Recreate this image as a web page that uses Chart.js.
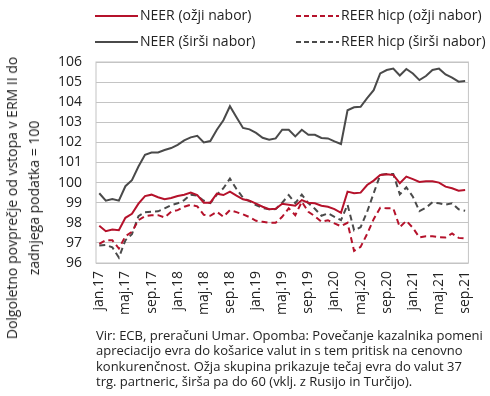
<!DOCTYPE html>
<html>
<head>
<meta charset="utf-8">
<script src="https://cdn.jsdelivr.net/npm/chart.js@4"></script>
<style>
  body { margin: 0; background: #fff; font-family: "Open Sans", sans-serif; color: #222; }
  #wrap { position: relative; width: 490px; height: 396px; overflow: hidden; }
  #chart { position: absolute; left: 0; top: 0; }
  .leg { position: absolute; font-size: 14px; line-height: 18px; white-space: nowrap; }
  .leg svg { position: absolute; left: 0; top: 8px; }
  .leg span { position: absolute; left: 45px; top: 0; }
  #ytitle { position: absolute; left: 23px; top: 198px; font-size: 14px; line-height: 22px;
    white-space: nowrap; text-align: center; transform: translate(-50%, -50%) rotate(-90deg); }
  #note { position: absolute; left: 96px; top: 328px; font-size: 13px; line-height: 15.3px; white-space: nowrap; }
</style>
</head>
<body>
<div id="wrap">
  <canvas id="chart" width="490" height="396"></canvas>
  <div id="legend"></div>
  <div id="ytitle">Dolgoletno povprečje od vstopa v ERM II do<br>zadnjega podatka = 100</div>
  <div id="note">Vir: ECB, preračuni Umar. Opomba: Povečanje kazalnika pomeni<br>apreciacijo evra do košarice valut in s tem pritisk na cenovno<br>konkurenčnost. Ožja skupina prikazuje tečaj evra do valut 37<br>trg. partneric, širša pa do 60 (vklj. z Rusijo in Turčijo).</div>
</div>
<script>
  // months jan.17 .. sep.21
  const monthNames = ['jan', 'feb', 'mar', 'apr', 'maj', 'jun', 'jul', 'avg', 'sep', 'okt', 'nov', 'dec'];
  const labels = [];
  for (let y = 17; y <= 21; y++) {
    for (let m = 0; m < 12; m++) {
      if (y === 21 && m > 8) break;
      labels.push(monthNames[m] + '.' + y);
    }
  }

  const neerNarrow = [97.85, 97.58, 97.67, 97.63, 98.25, 98.45, 98.95, 99.33, 99.4, 99.27,
    99.17, 99.23, 99.33, 99.4, 99.5, 99.38, 99.0, 99.0, 99.45, 99.38,
    99.55, 99.35, 99.17, 99.1, 98.95, 98.8, 98.68, 98.7, 98.95, 98.9,
    98.85, 99.13, 99.0, 98.97, 98.85, 98.8, 98.68, 98.5, 99.55, 99.47,
    99.5, 99.88, 100.1, 100.38, 100.42, 100.38, 99.97, 100.3, 100.17, 100.03,
    100.07, 100.07, 100.0, 99.8, 99.72, 99.6, 99.63];

  const reerNarrow = [96.95, 97.13, 97.13, 96.72, 97.33, 97.55, 98.13, 98.33, 98.38, 98.38,
    98.27, 98.55, 98.63, 98.8, 98.9, 98.82, 98.4, 98.35, 98.55, 98.3,
    98.63, 98.53, 98.42, 98.28, 98.1, 98.05, 98.0, 98.0, 98.3, 98.72,
    98.38, 99.05, 98.55, 98.33, 98.05, 98.13, 97.97, 97.83, 98.0, 96.6,
    96.8, 97.45, 98.18, 98.75, 98.72, 98.72, 97.78, 98.1, 97.75, 97.27,
    97.33, 97.33, 97.28, 97.27, 97.47, 97.25, 97.22];

  const neerBroad = [99.47, 99.1, 99.18, 99.1, 99.82, 100.12, 100.8, 101.38, 101.5, 101.5,
    101.62, 101.72, 101.88, 102.1, 102.25, 102.33, 102.0, 102.07, 102.63, 103.1,
    103.8, 103.25, 102.72, 102.65, 102.47, 102.23, 102.13, 102.2, 102.63, 102.63,
    102.3, 102.63, 102.38, 102.38, 102.22, 102.2, 102.05, 101.92, 103.6, 103.75,
    103.77, 104.2, 104.6, 105.43, 105.6, 105.67, 105.33, 105.65, 105.43, 105.1,
    105.3, 105.6, 105.67, 105.38, 105.22, 105.02, 105.05];

  const reerBroad = [96.87, 96.9, 96.78, 96.27, 97.13, 97.43, 98.33, 98.53, 98.55, 98.57,
    98.72, 98.88, 98.97, 99.13, 99.4, 99.35, 99.1, 98.98, 99.4, 99.72,
    100.2, 99.68, 99.25, 99.08, 98.88, 98.73, 98.67, 98.68, 99.0, 99.38,
    98.98, 99.4, 98.98, 98.7, 98.35, 98.47, 98.3, 98.13, 98.9, 97.63,
    97.78, 98.55, 99.47, 100.38, 100.43, 100.43, 99.42, 99.76, 99.3, 98.58,
    98.75, 99.02, 98.97, 98.9, 98.97, 98.67, 98.6];

  const red = '#b5122b';
  const grey = '#4a4a4a';

  const series = [
    {label: 'NEER (ožji nabor)', data: neerNarrow, color: red, dash: [], lx: 95, ly: 6},
    {label: 'REER hicp (ožji nabor)', data: reerNarrow, color: red, dash: [6, 4], lx: 296, ly: 6},
    {label: 'NEER (širši nabor)', data: neerBroad, color: grey, dash: [], lx: 95, ly: 32},
    {label: 'REER hicp (širši nabor)', data: reerBroad, color: grey, dash: [6, 4], lx: 296, ly: 32}
  ];

  // html legend
  const legend = document.getElementById('legend');
  series.forEach(function(s) {
    const d = document.createElement('div');
    d.className = 'leg';
    d.style.left = s.lx + 'px';
    d.style.top = s.ly + 'px';
    d.innerHTML = '<svg width="44" height="4"><line x1="0" y1="2" x2="43" y2="2" stroke="' + s.color +
      '" stroke-width="2"' + (s.dash.length ? ' stroke-dasharray="5,3"' : '') + '/></svg><span>' + s.label + '</span>';
    legend.appendChild(d);
  });

  const frame = {
    id: 'frame',
    afterDraw(chart) {
      const a = chart.chartArea, ctx = chart.ctx;
      ctx.save();
      ctx.strokeStyle = '#c4c4c4';
      ctx.lineWidth = 1;
      ctx.strokeRect(a.left, a.top, a.right - a.left, a.bottom - a.top);
      ctx.restore();
    }
  };

  new Chart(document.getElementById('chart'), {
    type: 'line',
    data: {
      labels: labels,
      datasets: series.map(function(s) {
        return {
          label: s.label,
          data: s.data,
          borderColor: s.color,
          backgroundColor: s.color,
          borderDash: s.dash,
          borderWidth: 2,
          pointRadius: 0,
          tension: 0,
          fill: false
        };
      })
    },
    options: {
      responsive: false,
      animation: false,
      devicePixelRatio: 1,
      layout: { padding: { left: 0, right: 7, top: 62, bottom: 0 } },
      plugins: { legend: { display: false }, tooltip: { enabled: false } },
      scales: {
        x: {
          offset: true,
          afterFit: function(scale) { scale.height = 133; },
          grid: { display: false, drawTicks: false },
          border: { display: false },
          ticks: {
            autoSkip: false,
            minRotation: 90,
            maxRotation: 90,
            padding: 8,
            color: '#222',
            font: { family: 'Open Sans', size: 14 },
            callback: function(v, i) { return i % 4 === 0 ? labels[i] : null; }
          }
        },
        y: {
          min: 96,
          max: 106,
          afterFit: function(scale) { scale.width = 96; },
          grid: { color: '#c4c4c4', lineWidth: 1, drawTicks: false },
          border: { display: false },
          ticks: {
            stepSize: 1,
            padding: 14,
            color: '#222',
            font: { family: 'Open Sans', size: 14 }
          }
        }
      }
    },
    plugins: [frame]
  });
</script>
</body>
</html>
